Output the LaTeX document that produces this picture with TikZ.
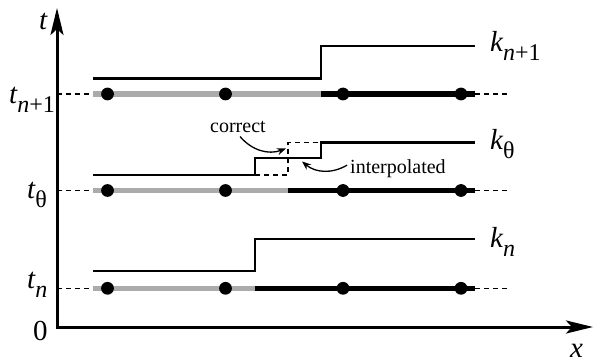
\documentclass[tikz,border=0pt]{standalone}
\usepackage{fontspec}
\setmainfont{Liberation Serif}
\usetikzlibrary{arrows.meta}
% subscript set a little smaller and lowered
\newcommand\lowsub[1]{\raisebox{-9pt}{\fontsize{24}{24}\selectfont #1}}
\begin{document}
\begin{tikzpicture}[x=1pt,y=-1pt,
  axis/.style={line width=3pt,line join=miter,
    {Stealth[length=27pt,width=13pt,inset=6pt]}-{Stealth[length=27pt,width=13pt,inset=6pt]}},
  guide/.style={line width=1.2pt,dash pattern=on 5pt off 4pt},
  oldpart/.style={line width=5.5pt,color=black!33},
  newpart/.style={line width=5.5pt,color=black},
  state/.style={line width=2.8pt,line join=miter},
  hint/.style={line width=1.2pt,dash pattern=on 5pt off 4pt},
  dot/.style={circle,fill=black,inner sep=0pt,minimum size=12.8pt},
  lab/.style={inner sep=0pt,font=\fontsize{29}{29}\selectfont},
  note/.style={inner sep=0pt,font=\fontsize{20}{20}\selectfont},
  pointer/.style={line width=1.3pt,-{Stealth[length=9pt,width=7pt]}}
]
\useasboundingbox (0,0) rectangle (593,363);

% axes
\coordinate (O) at (57,327);
\coordinate (ytip) at (57,8);
\coordinate (xtip) at (593,327);
\draw[axis] (ytip) -- (O) -- (xtip);
\node[lab,anchor=base west] (tlab) at (39,30) {\itshape t};
\node[lab,anchor=base west] (xlab) at (570,357) {\itshape x};
\node[lab,anchor=base west] (zero) at (33,340) {0};

% ---- level t_{n+1}
\coordinate (a1) at (93,94);
\coordinate (s1) at (321,94);
\coordinate (e1) at (475,94);
\coordinate (r1) at (510,94);
\draw[guide] (O |- a1) -- (a1);
\draw[guide] (e1) -- (r1);
\draw[oldpart] (a1) -- (s1);
\draw[newpart] (s1) -- (e1);
\foreach \x [count=\i] in {107.5,225.5,343,461}
  \node[dot] (p1\i) at (\x,94) {};
\draw[state] (93,78.3) -- (321,78.3) -- (321,46) -- (475,46);
\node[lab,anchor=base west] (tn1) at (9,104) {\itshape t\lowsub{n\upshape+1}};
\node[lab,anchor=base west] (kn1) at (490,52) {\itshape k\lowsub{n\upshape+1}};

% ---- level t_theta
\coordinate (a2) at (93,190.5);
\coordinate (s2) at (288,190.5);
\coordinate (e2) at (475,190.5);
\coordinate (r2) at (510,190.5);
\draw[guide] (O |- a2) -- (a2);
\draw[guide] (e2) -- (r2);
\draw[oldpart] (a2) -- (s2);
\draw[newpart] (s2) -- (e2);
\foreach \x [count=\i] in {107.5,225.5,343,461}
  \node[dot] (p2\i) at (\x,190.5) {};
\draw[state] (93,175) -- (255,175) -- (255,158) -- (321,158) -- (321,142.5) -- (475,142.5);
% exact state, dashed
\draw[hint] (255,175) -- (288,175) -- (288,142.5) -- (321,142.5);
\node[lab,anchor=base west] (tth) at (27,199) {\itshape t\lowsub{\upshape θ}};
\node[lab,anchor=base west] (kth) at (490,150) {\itshape k\lowsub{\upshape θ}};

\node[note,anchor=base west] (corr) at (210,133) {correct};
\node[note,anchor=base west] (intp) at (350,174) {interpolated};
\coordinate (ctip) at (286,148.5);
\coordinate (itip) at (302,161.5);
\draw[pointer] (240,136.5) to[bend right=35] (ctip);
\draw[pointer] (intp.west) ++(-3,-4) to[bend left=35] (itip);

% ---- level t_n
\coordinate (a3) at (93,288.3);
\coordinate (s3) at (255,288.3);
\coordinate (e3) at (475,288.3);
\coordinate (r3) at (510,288.3);
\draw[guide] (O |- a3) -- (a3);
\draw[guide] (e3) -- (r3);
\draw[oldpart] (a3) -- (s3);
\draw[newpart] (s3) -- (e3);
\foreach \x [count=\i] in {107.5,225.5,343,461}
  \node[dot] (p3\i) at (\x,288.3) {};
\draw[state] (93,271) -- (255,271) -- (255,239) -- (475,239);
\node[lab,anchor=base west] (tn) at (27,288) {\itshape t\lowsub{n}};
\node[lab,anchor=base west] (kn) at (490,247) {\itshape k\lowsub{n}};
\end{tikzpicture}
\end{document}
